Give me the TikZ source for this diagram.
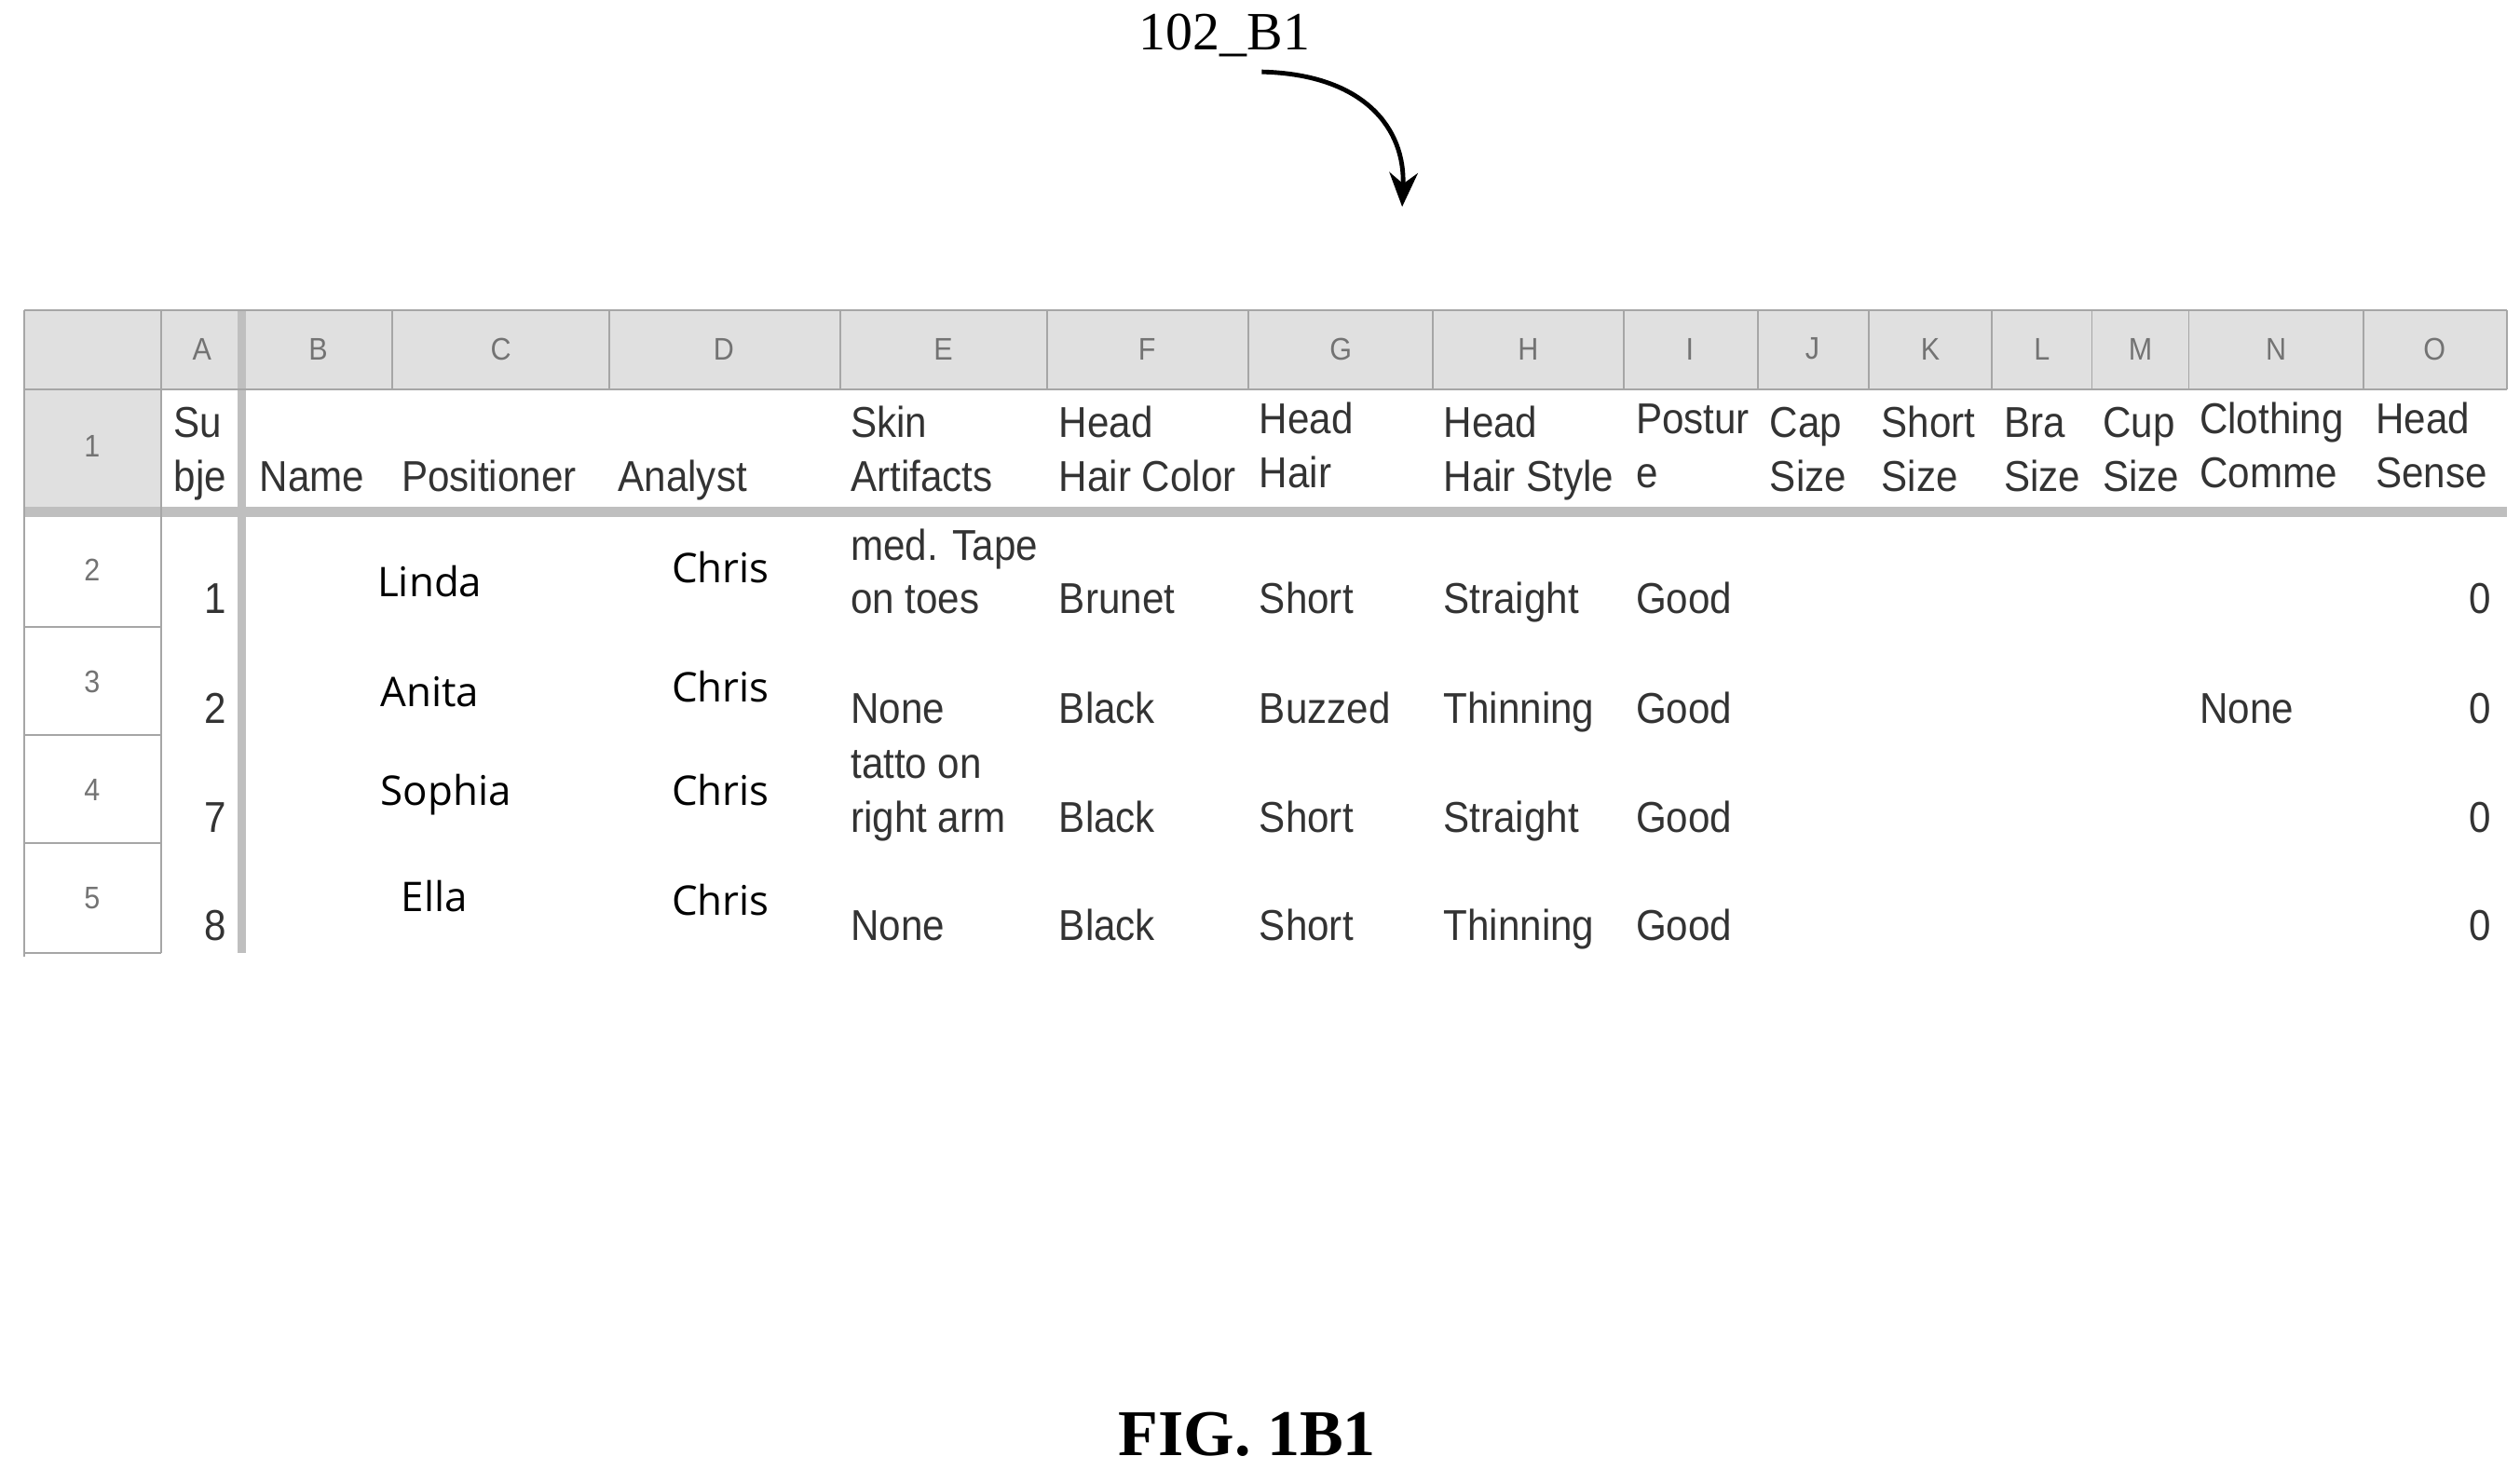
\documentclass[tikz,border=0pt]{standalone}
\usepackage{fontspec}
\setmainfont{Liberation Serif}
\newfontfamily\cellfont[FakeStretch=0.91]{Liberation Sans}
\newfontfamily\namefont{Open Sans}
\usetikzlibrary{arrows.meta}
\tikzset{
  cell/.style={font=\cellfont\fontsize{7.6}{9.5}\selectfont, text=black!80, inner sep=0pt},
  hdr/.style={cell, anchor=base west, align=left},
  person/.style={font=\namefont\fontsize{7.2}{9}\selectfont, inner sep=0pt},
  letter/.style={font=\cellfont\fontsize{5.5}{6}\selectfont, text=black!55, inner sep=0pt},
  grid/.style={draw=black!35, line width=0.3pt}
}
\begin{document}
\begin{tikzpicture}[x=0.1mm,y=-0.1mm]
  \useasboundingbox (0,0) rectangle (1560,910);
  % label and arrow
  \node[font=\fontsize{9.5}{11}\selectfont, inner sep=1pt] (ref) at (758,22) {102\_B1};
  \coordinate (tip) at (868,128);
  \draw[-{Stealth[length=6pt,width=5pt]}, line width=0.8pt] ([xshift=-3.4mm,yshift=-0.5mm]ref.south east) .. controls (845,46) and (870,80) .. (tip);
  % header band
  \fill[black!12] (15,192) rectangle (1552,241);
  \fill[black!12] (15,241) rectangle (100,320);
  \fill[black!25] (15,314) rectangle (1552,320);
  \fill[black!25] (147,192) rectangle (152,590);
  % grid
  \draw[grid] (15,192) -- (1552,192);
  \draw[grid] (15,241) -- (1552,241);
  \foreach \y in {388,455,522,590} \draw[grid] (15,\y) -- (100,\y);
  \draw[grid] (15,192) -- (15,592);
  \draw[grid] (100,192) -- (100,590);
  \foreach \x in {243,377,520,648,773,887,1005,1088,1157,1233,1295,1355,1463,1552}
    \draw[grid] (\x,192) -- (\x,241);
  % column letters
  \foreach \l/\x in {A/125,B/197,C/310,D/448,E/584,F/710,G/830,H/946,I/1046,J/1122,K/1195,L/1264,M/1325,N/1409,O/1507}
    \node[letter] (col\l) at (\x,216) {\l};
  % row numbers
  \foreach \n/\y in {1/276,2/353,3/422,4/489,5/556}
    \node[letter] (row\n) at (57,\y) {\n};
  % header texts
  \node[hdr] (hA) at (107,304) {Su\\bje};
  \node[hdr] (hB) at (160,304) {Name};
  \node[hdr] (hC) at (248,304) {Positioner};
  \node[hdr] (hD) at (382,304) {Analyst};
  \node[hdr] (hE) at (526,304) {Skin\\Artifacts};
  \node[hdr] (hF) at (655,304) {Head\\Hair Color};
  \node[hdr] (hG) at (779,302) {Head\\Hair};
  \node[hdr] (hH) at (893,304) {Head\\Hair Style};
  \node[hdr] (hI) at (1012,302) {Postur\\e};
  \node[hdr] (hJ) at (1095,304) {Cap\\Size};
  \node[hdr] (hK) at (1164,304) {Short\\Size};
  \node[hdr] (hL) at (1240,304) {Bra\\Size};
  \node[hdr] (hM) at (1301,304) {Cup\\Size};
  \node[hdr] (hN) at (1361,302) {Clothing\\Comme};
  \node[hdr] (hO) at (1470,302) {Head\\Sense};
  % subject numbers
  \foreach \n/\v/\y in {2/1/380,3/2/448,4/7/515,5/8/582}
    \node[cell, anchor=base east] (subj\n) at (141,\y) {\v};
  % names and analysts
  \node[person] (nm2) at (266,360) {Linda};
  \node[person] (nm3) at (266,428) {Anita};
  \node[person] (nm4) at (276,492) {Sophia};
  \node[person] (nm5) at (269,555) {Ella};
  \foreach \n/\y in {2/351,3/425,4/489,5/557}
    \node[person] (an\n) at (446,\y) {Chris};
  % skin artifacts
  \node[hdr] (sk2) at (526,380) {med. Tape\\on toes};
  \node[hdr] (sk3) at (526,448) {None};
  \node[hdr] (sk4) at (526,515) {tatto on\\right arm};
  \node[hdr] (sk5) at (526,582) {None};
  % remaining values
  \foreach \n/\y/\hc/\hl/\hs in {2/380/Brunet/Short/Straight,3/448/Black/Buzzed/Thinning,4/515/Black/Short/Straight,5/582/Black/Short/Thinning}{
    \node[hdr] (hc\n) at (655,\y) {\hc};
    \node[hdr] (hl\n) at (779,\y) {\hl};
    \node[hdr] (hs\n) at (893,\y) {\hs};
    \node[hdr] (ps\n) at (1012,\y) {Good};
    \node[cell, anchor=base east] (se\n) at (1543,\y) {0};
  }
  \node[hdr] (cl3) at (1361,448) {None};
  % caption
  \node[font=\bfseries\fontsize{11.5}{13}\selectfont] (fig) at (772,888) {FIG. 1B1};
\end{tikzpicture}
\end{document}
